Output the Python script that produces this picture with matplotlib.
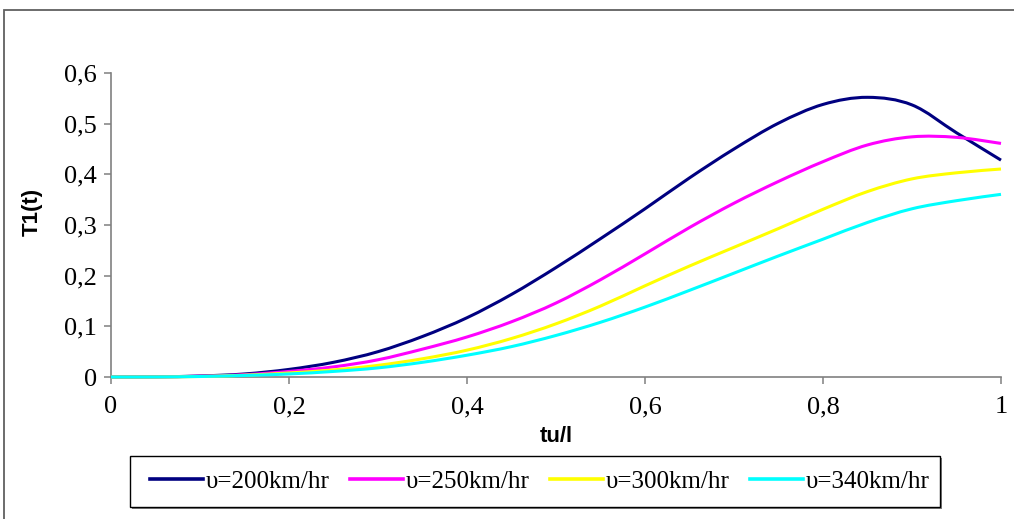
import matplotlib
matplotlib.use("Agg")
import matplotlib.pyplot as plt
import numpy as np
from matplotlib.path import Path
from matplotlib.patches import PathPatch, Rectangle
from matplotlib.lines import Line2D

# Dimensionless time tu/l
tu_l = [0.0, 0.05, 0.10, 0.15, 0.20, 0.25, 0.30, 0.35, 0.40, 0.45, 0.50,
        0.55, 0.60, 0.65, 0.70, 0.75, 0.80, 0.85, 0.90, 0.95, 1.00]

# T1(t) for each train speed
t1_200 = [0.0, 0.0003, 0.002, 0.006, 0.015, 0.029, 0.050, 0.080, 0.117, 0.163, 0.216,
          0.273, 0.332, 0.393, 0.450, 0.501, 0.538, 0.552, 0.537, 0.482, 0.428]
t1_250 = [0.0, 0.0002, 0.0015, 0.0045, 0.011, 0.020, 0.034, 0.055, 0.079, 0.109, 0.146,
          0.192, 0.243, 0.295, 0.343, 0.386, 0.425, 0.458, 0.474, 0.473, 0.461]
t1_300 = [0.0, 0.0001, 0.001, 0.0035, 0.008, 0.014, 0.023, 0.036, 0.053, 0.076, 0.105,
          0.140, 0.180, 0.219, 0.256, 0.293, 0.331, 0.366, 0.391, 0.403, 0.4105]
t1_340 = [0.0, 0.0001, 0.001, 0.003, 0.006, 0.011, 0.018, 0.029, 0.043, 0.060, 0.082,
          0.108, 0.138, 0.171, 0.205, 0.239, 0.272, 0.305, 0.332, 0.348, 0.3605]

series_labels = ["υ=200km/hr", "υ=250km/hr", "υ=300km/hr", "υ=340km/hr"]
series_colors = ["#000080", "#FF00FF", "#FFFF00", "#00FFFF"]

x_ticks = [0, 0.2, 0.4, 0.6, 0.8, 1.0]
x_tick_labels = ["0", "0,2", "0,4", "0,6", "0,8", "1"]
y_ticks = [0, 0.1, 0.2, 0.3, 0.4, 0.5, 0.6]
y_tick_labels = ["0", "0,1", "0,2", "0,3", "0,4", "0,5", "0,6"]


def smooth_path(xs, ys):
    """Catmull-Rom spline through the points, expressed as cubic Bezier segments."""
    p = np.column_stack([xs, ys]).astype(float)
    n = len(p)
    verts = [p[0]]
    codes = [Path.MOVETO]
    for i in range(n - 1):
        p0 = p[i - 1] if i > 0 else p[i]
        p1 = p[i]
        p2 = p[i + 1]
        p3 = p[i + 2] if i + 2 < n else p[i + 1]
        c1 = p1 + (p2 - p0) / 6.0
        c2 = p2 - (p3 - p1) / 6.0
        verts += [c1, c2, p2]
        codes += [Path.CURVE4] * 3
    return Path(np.array(verts), codes)


W, H = 1014, 519
fig = plt.figure(figsize=(W / 100, H / 100), dpi=100)
fig.patch.set_facecolor("white")

# Outer chart-area frame
fig.patches.append(Rectangle((3.5 / W, -0.2), 1.2, 1.2 - 9.5 / H,
                             transform=fig.transFigure, fill=False,
                             edgecolor="#606060", linewidth=1.3))

left, right, bottom, top = 111 / W, 1001 / W, 1 - 377 / H, 1 - 73 / H
ax = fig.add_axes([left, bottom, right - left, top - bottom])

serif = "Liberation Serif"
sans = "Liberation Sans"

for ys, col in zip([t1_200, t1_250, t1_300, t1_340], series_colors):
    patch = PathPatch(smooth_path(tu_l, ys), facecolor="none", edgecolor=col,
                      linewidth=2.2, clip_on=False, zorder=3)
    ax.add_patch(patch)

ax.set_xlim(0, 1)
ax.set_ylim(0, 0.6)

for s in ["top", "right"]:
    ax.spines[s].set_visible(False)
for s in ["left", "bottom"]:
    ax.spines[s].set_color("#808080")
    ax.spines[s].set_linewidth(1.2)

ax.set_xticks(x_ticks)
ax.set_xticklabels(x_tick_labels, fontfamily=serif, fontsize=19)
ax.set_yticks(y_ticks)
ax.set_yticklabels(y_tick_labels, fontfamily=serif, fontsize=19)
ax.tick_params(axis="both", direction="out", length=5, width=1.1, color="#808080")
ax.tick_params(axis="x", pad=9)
ax.tick_params(axis="y", pad=5)

ax.set_xlabel("tu/l", fontfamily=sans, fontweight="bold", fontsize=16, va="center")
ax.xaxis.set_label_coords(0.5, (377 - 437) / 304)
ax.set_ylabel("T1(t)", fontfamily=sans, fontweight="bold", fontsize=16, va="center")
ax.yaxis.set_label_coords((32 - 111) / 890, (377 - 212) / 304)

# Legend box with drop shadow
box_l, box_r, box_t, box_b = 130, 940, 456, 507
fig.patches.append(Rectangle(((box_l + 2) / W, 1 - (box_b + 2) / H),
                             (box_r - box_l) / W, (box_b - box_t) / H,
                             transform=fig.transFigure, facecolor="#808080",
                             edgecolor="none", zorder=1))
fig.patches.append(Rectangle((box_l / W, 1 - box_b / H),
                             (box_r - box_l) / W, (box_b - box_t) / H,
                             transform=fig.transFigure, facecolor="white",
                             edgecolor="black", linewidth=1.0, zorder=2))

handles = [Line2D([], [], color=c, linewidth=2.6) for c in series_colors]
leg = fig.legend(handles, series_labels, loc="center left",
                 bbox_to_anchor=(150 / W, 1 - 481.5 / H), ncol=4,
                 prop={"family": serif, "size": 18},
                 frameon=False, handlelength=2.12, handletextpad=0.12,
                 columnspacing=0.8, borderpad=0, borderaxespad=0)
leg.set_zorder(5)

fig.savefig("out.png", dpi=100, facecolor="white")
